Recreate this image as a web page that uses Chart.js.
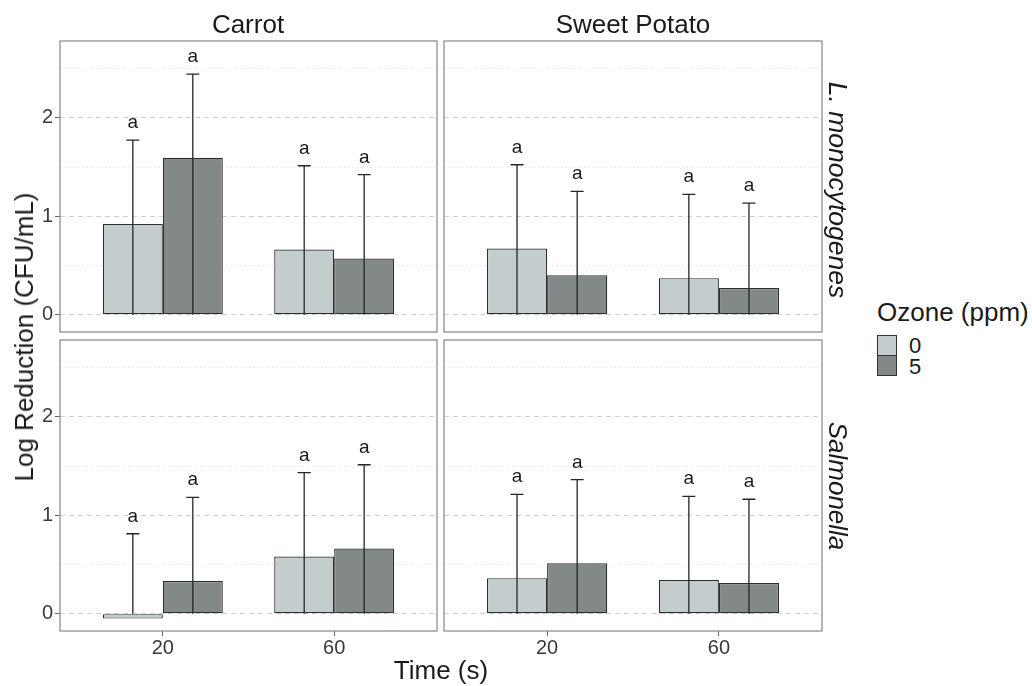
<!DOCTYPE html>
<html>
<head>
<meta charset="utf-8">
<script src="https://cdn.jsdelivr.net/npm/chart.js@4/dist/chart.umd.min.js"></script>
<style>
  body { margin: 0; background: #fff; }
  #wrap { position: relative; width: 1032px; height: 686px; font-family: "Liberation Sans", Arial, sans-serif; color: #1a1a1a; }
  canvas { position: absolute; }
  .lbl { position: absolute; white-space: nowrap; font-size: 26px; line-height: 26px; transform: translate(-50%, -50%); }
  .key { position: absolute; width: 18px; height: 19px; border: 1px solid #333; }
  .ktxt { position: absolute; font-size: 22px; line-height: 22px; transform: translateY(-50%); }
</style>
</head>
<body>
<div id="wrap">
  <canvas id="tl" width="457" height="331" style="left:0px;top:21px"></canvas>
  <canvas id="tr" width="418" height="331" style="left:424px;top:21px"></canvas>
  <canvas id="bl" width="457" height="351" style="left:0px;top:320px"></canvas>
  <canvas id="br" width="418" height="351" style="left:424px;top:320px"></canvas>

  <div class="lbl" style="left:248px;top:24px">Carrot</div>
  <div class="lbl" style="left:633px;top:24px">Sweet Potato</div>
  <div class="lbl" style="left:838px;top:190px;font-size:26.5px;transform:translate(-50%,-50%) rotate(90deg);font-style:italic">L. monocytogenes</div>
  <div class="lbl" style="left:838px;top:486px;transform:translate(-50%,-50%) rotate(90deg);font-style:italic">Salmonella</div>
  <div class="lbl" style="left:24px;top:337px;transform:translate(-50%,-50%) rotate(-90deg)">Log Reduction (CFU/mL)</div>
  <div class="lbl" style="left:441px;top:670px">Time (s)</div>

  <div class="lbl" style="left:877px;top:312px;transform:translateY(-50%)">Ozone (ppm)</div>
  <div class="key" style="left:877px;top:335px;background:#c3cdcd"></div>
  <div class="key" style="left:877px;top:355px;background:#828987"></div>
  <div class="ktxt" style="left:909px;top:346px">0</div>
  <div class="ktxt" style="left:909px;top:367px">5</div>
</div>
<script>
// categories
const times = ['20', '60'];
const timeX = [1, 2];
const ozoneLevels = ['0', '5'];
const yTicks = [0, 1, 2];
const yMinor = [0.5, 1.5, 2.5];

// mean log reduction, per ozone level, for 20 s and 60 s
const carrotListeria0 = [0.92, 0.66];
const carrotListeria5 = [1.59, 0.57];
const potatoListeria0 = [0.67, 0.37];
const potatoListeria5 = [0.40, 0.27];
const carrotSalmonella0 = [-0.05, 0.58];
const carrotSalmonella5 = [0.33, 0.66];
const potatoSalmonella0 = [0.36, 0.34];
const potatoSalmonella5 = [0.51, 0.31];

// top of the error bars
const carrotListeriaUp0 = [1.77, 1.51];
const carrotListeriaUp5 = [2.44, 1.42];
const potatoListeriaUp0 = [1.52, 1.22];
const potatoListeriaUp5 = [1.25, 1.13];
const carrotSalmonellaUp0 = [0.81, 1.43];
const carrotSalmonellaUp5 = [1.18, 1.51];
const potatoSalmonellaUp0 = [1.21, 1.19];
const potatoSalmonellaUp5 = [1.36, 1.16];

// significance letters
const letters = ['a', 'a'];

const colors = ['#c3cdcd', '#828987'];
const fontFam = '"Liberation Sans", Arial, sans-serif';

const panelPlugin = {
  id: 'panel',
  beforeDatasetsDraw(chart) {
    const {ctx, chartArea: a, scales: {y}} = chart;
    ctx.save();
    ctx.strokeStyle = '#e2e2e2';
    ctx.lineWidth = 1;
    ctx.setLineDash([1.5, 3]);
    yMinor.forEach(v => {
      const py = Math.round(y.getPixelForValue(v)) + 0.5;
      ctx.beginPath(); ctx.moveTo(a.left, py); ctx.lineTo(a.right, py); ctx.stroke();
    });
    ctx.restore();
  },
  afterDatasetsDraw(chart) {
    const {ctx, scales: {y}} = chart;
    ctx.save();
    ctx.strokeStyle = '#262626';
    ctx.lineWidth = 1.3;
    ctx.fillStyle = '#1a1a1a';
    ctx.font = '19px ' + fontFam;
    ctx.textAlign = 'center';
    ctx.textBaseline = 'alphabetic';
    chart.data.datasets.forEach((ds, di) => {
      chart.getDatasetMeta(di).data.forEach((bar, i) => {
        const top = y.getPixelForValue(ds.upper[i]);
        const base = y.getPixelForValue(0);
        const cap = 6.5;
        ctx.beginPath();
        ctx.moveTo(bar.x, base); ctx.lineTo(bar.x, top);
        ctx.moveTo(bar.x - cap, top); ctx.lineTo(bar.x + cap, top);
        ctx.stroke();
        ctx.fillText(ds.letters[i], bar.x, top - 12);
      });
    });
    ctx.restore();
  },
  afterDraw(chart) {
    const {ctx, chartArea: a} = chart;
    ctx.save();
    ctx.strokeStyle = '#8f8f8f';
    ctx.lineWidth = 1.3;
    ctx.strokeRect(a.left, a.top, a.right - a.left, a.bottom - a.top);
    ctx.restore();
  }
};

function makePanel(id, m0, m5, up0, up5, showY, showX) {
  const series = [[m0, up0], [m5, up5]];
  new Chart(document.getElementById(id), {
    type: 'bar',
    data: {
      datasets: series.map((s, k) => ({
        label: ozoneLevels[k],
        data: timeX.map((x, i) => ({x: x, y: s[0][i]})),
        upper: s[1],
        letters: letters,
        backgroundColor: colors[k],
        borderColor: '#2e2e2e',
        borderWidth: 1.2,
        borderSkipped: false,
        categoryPercentage: 0.7,
        barPercentage: 1
      }))
    },
    options: {
      responsive: false,
      animation: false,
      layout: {padding: {left: showY ? 0 : 20, top: 20, right: 20, bottom: showX ? 10 : 20}},
      plugins: {legend: {display: false}, tooltip: {enabled: false}},
      scales: {
        x: {
          type: 'linear', min: 0.4, max: 2.6, offset: false,
          display: showX,
          afterBuildTicks: s => { s.ticks = timeX.map(v => ({value: v})); },
          afterFit: s => { s.height = showX ? 30 : 0; },
          ticks: {
            callback: v => times[timeX.indexOf(v)],
            color: '#3a3a3a', font: {family: fontFam, size: 20},
            padding: 0, maxRotation: 0, autoSkip: false
          },
          grid: {drawOnChartArea: false, drawTicks: true, tickLength: 5, tickColor: '#666', tickWidth: 1, offset: false},
          border: {display: false}
        },
        y: {
          min: -0.176, max: 2.775,
          afterBuildTicks: s => { s.ticks = yTicks.map(v => ({value: v})); },
          afterFit: s => { s.width = showY ? 60 : 0; },
          ticks: {display: showY, color: '#3a3a3a', font: {family: fontFam, size: 20}, padding: 2},
          grid: {color: '#cfcfcf', lineWidth: 1, drawTicks: showY, tickLength: 5, tickColor: '#666', tickWidth: 1, tickBorderDash: []},
          border: {display: false, dash: [5, 4]}
        }
      }
    },
    plugins: [panelPlugin]
  });
}

makePanel('tl', carrotListeria0, carrotListeria5, carrotListeriaUp0, carrotListeriaUp5, true, false);
makePanel('tr', potatoListeria0, potatoListeria5, potatoListeriaUp0, potatoListeriaUp5, false, false);
makePanel('bl', carrotSalmonella0, carrotSalmonella5, carrotSalmonellaUp0, carrotSalmonellaUp5, true, true);
makePanel('br', potatoSalmonella0, potatoSalmonella5, potatoSalmonellaUp0, potatoSalmonellaUp5, false, true);
</script>
</body>
</html>
